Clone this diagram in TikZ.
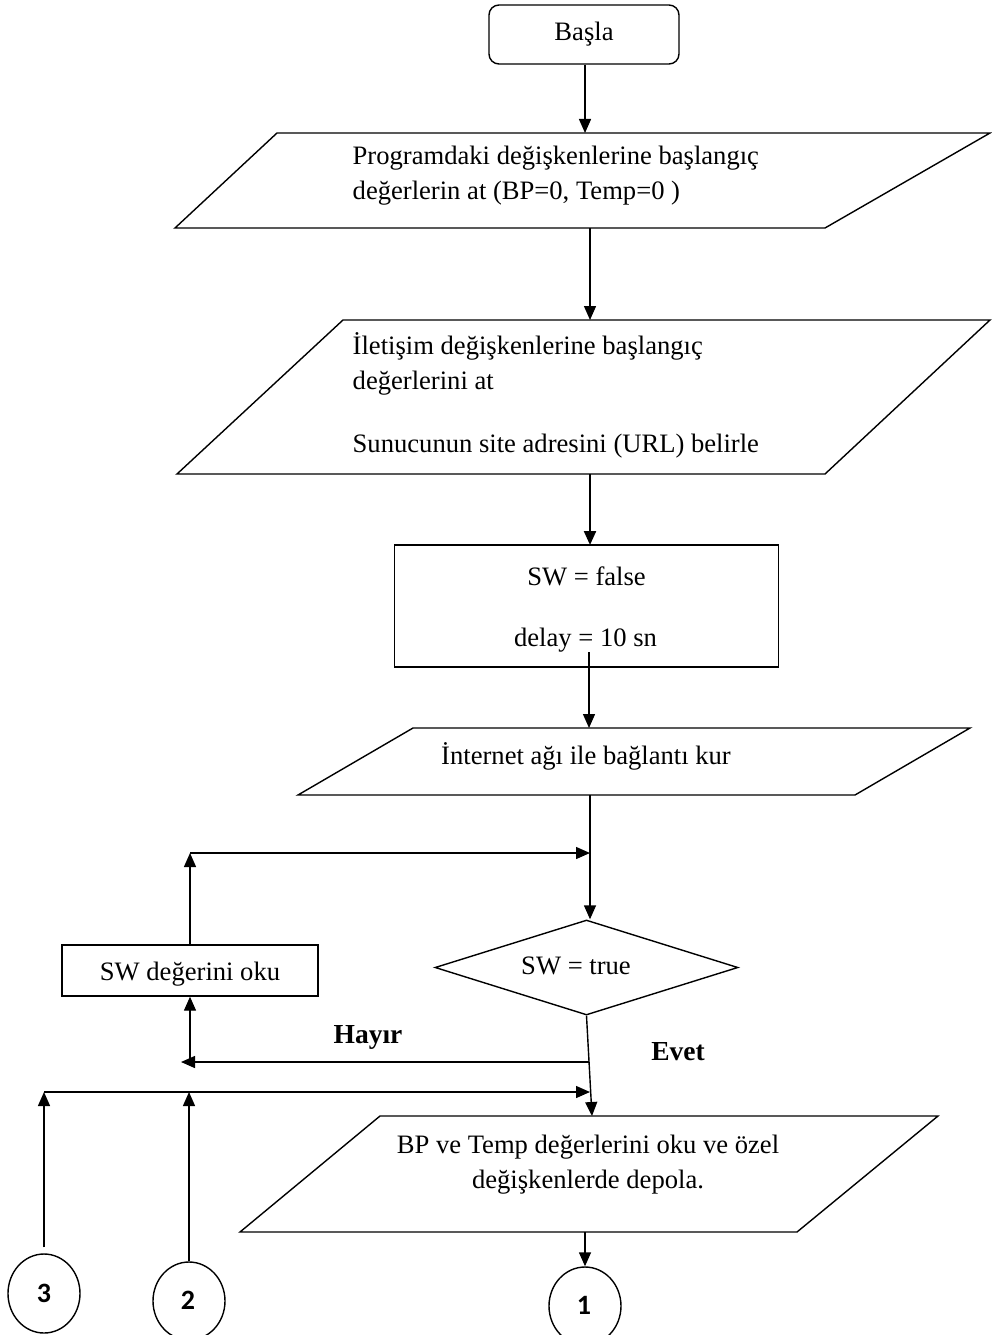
\documentclass[tikz,border=0pt]{standalone}
\usepackage{fontspec}
\setmainfont{Liberation Serif}
\newfontfamily\numfont{Carlito}
\usetikzlibrary{arrows.meta,shapes.geometric}
\begin{document}
\begin{tikzpicture}[x=1pt,y=-1pt,
  line width=1.4pt,
  outline/.style={draw, line width=1.4pt, line join=miter},
  flow/.style={-{Triangle[length=14pt,width=12pt]}, line width=1.4pt},
  txt/.style={font=\fontsize{26.6}{35}\selectfont, inner sep=0pt},
  boldtxt/.style={font=\fontsize{27.5}{30}\selectfont\bfseries, inner sep=0pt},
  numtxt/.style={font=\fontsize{28}{30}\numfont\bfseries, inner sep=0pt},
  connector/.style={draw, ellipse, line width=1.4pt, minimum width=72pt, minimum height=78pt, inner sep=0pt}
]
\useasboundingbox (0,0) rectangle (992,1335);

% --- start terminal
\node[draw, rounded corners=10pt, minimum width=190pt, minimum height=59pt, txt] (start) at (584,34.5) {Başla};

% --- initial values (input/output)
\draw[outline] (277,133) -- (990,133) -- (825,228) -- (175,228) -- cycle;
\coordinate (p1in) at (585,133);
\coordinate (p1out) at (590,228);
\node[txt, anchor=base west] (p1a) at (352,164) {Programdaki değişkenlerine başlangıç};
\node[txt, anchor=base west] (p1b) at (352,199) {değerlerin at (BP=0, Temp=0 )};

% --- communication values
\draw[outline] (343,320) -- (990,320) -- (825,474) -- (177,474) -- cycle;
\coordinate (p2in) at (590,320);
\coordinate (p2out) at (590,474);
\node[txt, anchor=base west] (p2a) at (352,354) {İletişim değişkenlerine başlangıç};
\node[txt, anchor=base west] (p2b) at (352,389) {değerlerini at};
\node[txt, anchor=base west] (p2c) at (352,452) {Sunucunun site adresini (URL) belirle};

% --- process box
\node[draw, line width=1.4pt, minimum width=384pt, minimum height=122pt, inner sep=0pt] (init) at (586.5,606) {};
\node[txt, anchor=base] (inita) at (586.5,585) {SW = false};
\node[txt, anchor=base] (initb) at (585.5,646) {delay = 10 sn};
\coordinate (initin) at (590,545);
\coordinate (initout) at (589,652);

% --- connect to internet
\draw[outline] (413,728) -- (970,728) -- (855,795) -- (298,795) -- cycle;
\coordinate (p3in) at (589,728);
\coordinate (p3out) at (590,795);
\node[txt, anchor=base] (p3a) at (586,764) {İnternet ağı ile bağlantı kur};

% --- decision
\node[draw, diamond, aspect=3.2, minimum width=303pt, minimum height=95pt, inner sep=0pt, line width=1.4pt] (dec) at (586.5,967.5) {};
\node[txt, anchor=base] (deca) at (576,974) {SW = true};
\coordinate (join) at (590,853);

% --- read switch
\node[draw, line width=1.4pt, minimum width=256pt, minimum height=51pt, inner sep=0pt] (read) at (190,970.5) {};
\node[txt, anchor=base] (reada) at (190,980) {SW değerini oku};

% --- store values
\draw[outline] (380,1116) -- (938,1116) -- (797,1232) -- (240,1232) -- cycle;
\coordinate (p4in) at (592,1116);
\coordinate (p4out) at (585,1232);
\node[txt, anchor=base] (p4a) at (588,1153) {BP ve Temp değerlerini oku ve özel};
\node[txt, anchor=base] (p4b) at (588,1188) {değişkenlerde depola.};

% --- off-page connectors
\node[connector, minimum height=79pt] (c3) at (44,1293.5) {};
\node[connector] (c2) at (189,1301) {};
\node[connector] (c1) at (585,1306) {};
\node[numtxt] (n3) at (44,1293) {3};
\node[numtxt] (n2) at (188,1300) {2};
\node[numtxt] (n1) at (584,1305) {1};

% --- branch labels
\node[boldtxt, anchor=base] (no) at (368,1043) {Hayır};
\node[boldtxt, anchor=base] (yes) at (678,1060) {Evet};

% --- flow lines
\draw[flow] (start.south -| p1in) -- (p1in);
\draw[flow] (p1out) -- (p2in);
\draw[flow, line width=2.2pt] (p2out) -- (initin);
\draw[flow] (initout) -- (p3in);
\draw[flow] (p3out) -- (p3out |- dec.north);
\coordinate (loopcorner) at (read.north |- join);
\draw[flow] (read.north) -- (loopcorner);
\draw[flow] (loopcorner) -- (join);

\draw[flow] (dec.south) -- (p4in);
\coordinate (nofrom) at (589,1062);
\coordinate (noto) at (181,1062);
\draw[flow] (nofrom) -- (noto);
\draw[flow] (read.south |- noto) -- (read.south);

\coordinate (busend) at (590,1092);
\coordinate (busstart) at (c3.north |- busend);
\draw[flow] (busstart) -- (busend);
\draw[flow] ([yshift=6pt]c3.north) -- (busstart);
\draw[flow] (c2.north) -- (c2.north |- busend);
\draw[flow] (p4out) -- (p4out |- c1.north);
\end{tikzpicture}
\end{document}
